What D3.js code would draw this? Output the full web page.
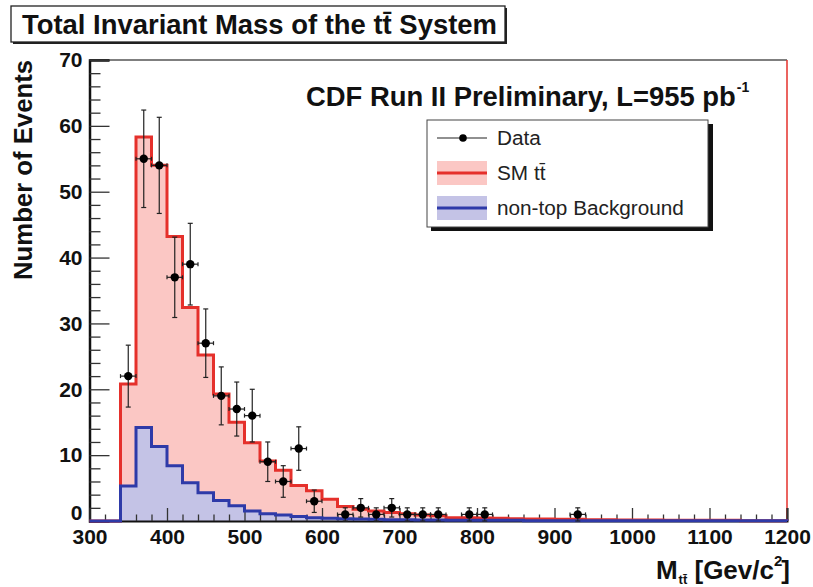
<!DOCTYPE html>
<html><head><meta charset="utf-8">
<script src="https://cdn.jsdelivr.net/npm/d3@7"></script>
<style>
html,body{margin:0;padding:0;background:#fff;}
svg{display:block;}
text{font-family:"Liberation Sans",Arial,Helvetica,sans-serif;}
</style></head>
<body>
<svg id="chart" width="813" height="587"></svg>
<script>
// ---- data ----
const binLow = [300,320,340,360,380,400,420,440,460,480,500,520,540,560,580,600,620,640,660,680,700,720,740,760,780,800,820,840,860,880,900,920,940,960,980,1000,1020,1040,1060,1080,1100,1120,1140,1160,1180];
const binWidth = 20;
const smTotal = [0,0,20.8,58.3,54.0,43.2,32.4,25.2,19.3,15.0,11.9,9.1,7.7,5.4,4.6,3.3,2.2,1.8,1.5,1.3,1.1,0.9,0.8,0.5,0.5,0.45,0.4,0.35,0.3,0.3,0.25,0.25,0.2,0.2,0.15,0.15,0.15,0.1,0.1,0.1,0.1,0.1,0.05,0.05,0.05];
const nonTop  = [0,0,5.3,14.2,11.3,8.4,5.8,4.3,3.1,2.3,1.5,1.1,0.9,0.7,0.5,0.4,0.35,0.3,0.25,0.2,0.2,0.15,0.15,0.1,0.1,0.1,0.1,0.1,0.05,0.05,0.05,0.05,0.05,0.05,0.05,0.05,0.05,0.05,0.05,0.05,0.05,0.05,0.05,0.05,0.05];
const dataCounts = [0,0,22,55,54,37,39,27,19,17,16,9,6,11,3,0,1,2,1,2,1,1,1,0,1,1,0,0,0,0,0,1,0,0,0,0,0,0,0,0,0,0,0,0,0];
const dataErr    = [0,0,4.7,7.4,7.3,6.1,6.2,5.2,4.4,4.1,4.0,3.0,2.4,3.3,1.7,0,1.0,1.4,1.0,1.4,1.0,1.0,1.0,0,1.0,1.0,0,0,0,0,0,1.0,0,0,0,0,0,0,0,0,0,0,0,0,0];
const xTickLabels = [300,400,500,600,700,800,900,1000,1100,1200];
const yTickLabels = [0,10,20,30,40,50,60,70];
const xDomain = [300,1200];
const yDomain = [0,70];

// ---- setup ----
const svg = d3.select("#chart");
const x = d3.scaleLinear().domain(xDomain).range([89.5, 787]);
const y = d3.scaleLinear().domain(yDomain).range([521, 60]);

const RED = "#e5302b", PINK = "#fbc7c4", BLUE = "#2e3aa8", LILAC = "#c4c3e6";
const FONT = '"Liberation Sans",Arial,sans-serif';

function stepPoints(vals){
  const pts = [[binLow[0], 0]];
  vals.forEach((v,i)=>{ pts.push([binLow[i], v]); pts.push([binLow[i]+binWidth, v]); });
  pts.push([binLow[binLow.length-1]+binWidth, 0]);
  return pts;
}
const line = d3.line().x(d=>x(d[0])).y(d=>y(d[1]));
const area = d3.area().x(d=>x(d[0])).y0(y(0)).y1(d=>y(d[1]));

function fit(sel, target){
  const w = sel.node().getComputedTextLength();
  const fs = parseFloat(sel.attr("font-size"));
  sel.attr("font-size", (fs*target/w).toFixed(2));
  return sel;
}

// fills
svg.append("path").attr("d", area(stepPoints(smTotal))).attr("fill", PINK);
svg.append("path").attr("d", area(stepPoints(nonTop))).attr("fill", LILAC);

// frame top & right
svg.append("line").attr("x1", x(300)).attr("x2", x(1200)).attr("y1", y(70)).attr("y2", y(70))
  .attr("stroke", "#555").attr("stroke-width", 1.5);
svg.append("line").attr("x1", x(1200)).attr("x2", x(1200)).attr("y1", y(70)).attr("y2", y(0))
  .attr("stroke", RED).attr("stroke-width", 1.5);

// y axis
const yMinor = d3.range(yDomain[0], yDomain[1], 2).filter(v => v % 10 !== 0);
const gy = svg.append("g").attr("transform", `translate(${x(300)},0)`);
gy.call(d3.axisRight(y).tickValues(yTickLabels).tickSize(20).tickFormat(""));
gy.append("g").call(d3.axisRight(y).tickValues(yMinor).tickSize(11).tickFormat("")).select(".domain").remove();
gy.select(".domain").attr("stroke", "#111").attr("stroke-width", 2.5);
gy.selectAll(".tick line").attr("stroke", "#333").attr("stroke-width", 1.3);
const gyl = svg.append("g").attr("transform", `translate(${x(300)},0)`)
  .call(d3.axisLeft(y).tickValues(yTickLabels).tickSize(0).tickPadding(7).tickFormat(d3.format("d")));
gyl.select(".domain").remove();
gyl.selectAll("text").attr("font-size", 21).attr("font-weight", "bold").attr("fill", "#111")
  .attr("font-family", FONT);
gyl.selectAll(".tick").filter(d => d === 0).select("text").attr("dy", "-0.05em");

// x axis
const xMinor = d3.range(xDomain[0], xDomain[1], 20).filter(v => v % 100 !== 0);
const gx = svg.append("g").attr("transform", `translate(0,${y(0)})`);
gx.call(d3.axisTop(x).tickValues(xTickLabels).tickSize(13).tickFormat(""));
gx.append("g").call(d3.axisTop(x).tickValues(xMinor).tickSize(6.5).tickFormat("")).select(".domain").remove();
gx.select(".domain").attr("stroke", "#111").attr("stroke-width", 2);
gx.selectAll(".tick line").attr("stroke", "#333").attr("stroke-width", 1.3);
const gxl = svg.append("g").attr("transform", `translate(0,${y(0)})`)
  .call(d3.axisBottom(x).tickValues(xTickLabels).tickSize(0).tickPadding(8).tickFormat(d3.format("d")));
gxl.select(".domain").remove();
gxl.selectAll("text").attr("font-size", 21).attr("font-weight", "bold").attr("fill", "#111")
  .attr("font-family", FONT);

// histogram outlines
svg.append("path").attr("d", line(stepPoints(smTotal))).attr("fill", "none")
  .attr("stroke", RED).attr("stroke-width", 3).attr("stroke-linejoin", "miter");
svg.append("path").attr("d", line(stepPoints(nonTop))).attr("fill", "none")
  .attr("stroke", BLUE).attr("stroke-width", 3).attr("stroke-linejoin", "miter");

// data points
const pts = binLow.map((lo,i)=>({lo, c: dataCounts[i], e: dataErr[i]})).filter(d=>d.c>0);
const gd = svg.append("g").attr("stroke", "#222").attr("stroke-width", 1.2);
pts.forEach(d=>{
  const cx = x(d.lo + binWidth/2), cy = y(d.c);
  const yt = y(d.c + d.e), yb = y(Math.max(0, d.c - d.e));
  gd.append("line").attr("x1", cx).attr("x2", cx).attr("y1", yt).attr("y2", yb);
  gd.append("line").attr("x1", cx-2.5).attr("x2", cx+2.5).attr("y1", yt).attr("y2", yt);
  gd.append("line").attr("x1", cx-2.5).attr("x2", cx+2.5).attr("y1", yb).attr("y2", yb);
  const xl = x(d.lo), xr = x(d.lo+binWidth);
  gd.append("line").attr("x1", xl).attr("x2", xr).attr("y1", cy).attr("y2", cy);
  gd.append("line").attr("x1", xl).attr("x2", xl).attr("y1", cy-2).attr("y2", cy+2);
  gd.append("line").attr("x1", xr).attr("x2", xr).attr("y1", cy-2).attr("y2", cy+2);
  svg.append("circle").attr("cx", cx).attr("cy", cy).attr("r", 4.2).attr("fill", "#000");
});

// title box
svg.append("rect").attr("x", 13).attr("y", 8).attr("width", 494).attr("height", 36).attr("fill", "#222");
svg.append("rect").attr("x", 11).attr("y", 6).attr("width", 494).attr("height", 36)
  .attr("fill", "#fff").attr("stroke", "#222").attr("stroke-width", 1.3);
const title = svg.append("text").attr("x", 22).attr("y", 34).attr("font-size", 27).attr("font-weight", "bold")
  .attr("fill", "#111").text("Total Invariant Mass of the tt\u0304 System");
fit(title, 475);

// CDF label
const cdf = svg.append("text").attr("x", 306).attr("y", 106).attr("font-size", 27).attr("font-weight", "bold")
  .attr("fill", "#111").text("CDF Run II Preliminary, L=955 pb");
fit(cdf, 430);
svg.append("text").attr("x", 306 + cdf.node().getComputedTextLength() + 1).attr("y", 92)
  .attr("font-size", 14).attr("font-weight", "bold").attr("fill", "#111").text("-1");

// legend
svg.append("rect").attr("x", 431).attr("y", 124).attr("width", 282).attr("height", 107).attr("fill", "#111");
svg.append("rect").attr("x", 427).attr("y", 120).attr("width", 281).attr("height", 107)
  .attr("fill", "#fff").attr("stroke", "#444").attr("stroke-width", 1);
svg.append("line").attr("x1", 437).attr("x2", 487).attr("y1", 138).attr("y2", 138).attr("stroke", "#222").attr("stroke-width", 1.2);
svg.append("circle").attr("cx", 463).attr("cy", 138).attr("r", 3.8).attr("fill", "#000");
svg.append("rect").attr("x", 437).attr("y", 161).attr("width", 50).attr("height", 24).attr("fill", PINK);
svg.append("line").attr("x1", 437).attr("x2", 487).attr("y1", 173).attr("y2", 173).attr("stroke", RED).attr("stroke-width", 3);
svg.append("rect").attr("x", 437).attr("y", 196).attr("width", 50).attr("height", 24).attr("fill", LILAC);
svg.append("line").attr("x1", 437).attr("x2", 487).attr("y1", 208).attr("y2", 208).attr("stroke", BLUE).attr("stroke-width", 3);
const legLabels = ["Data", "SM tt\u0304", "non-top Background"];
const legY = [145, 180, 215];
const legT = legLabels.map((t,i)=> svg.append("text").attr("x", 497).attr("y", legY[i])
  .attr("font-size", 20).attr("fill", "#222").text(t));
fit(legT[2], 187);
legT.forEach(s=>s.attr("font-size", legT[2].attr("font-size")));

// y title
const yt = svg.append("text").attr("transform", "translate(32,60) rotate(-90)").attr("text-anchor", "end")
  .attr("font-size", 25).attr("font-weight", "bold").attr("fill", "#111").text("Number of Events");
fit(yt, 220);

// x title
const xt = svg.append("text").attr("x", 790).attr("y", 579).attr("text-anchor", "end")
  .attr("font-size", 26).attr("font-weight", "bold").attr("fill", "#111");
xt.append("tspan").text("M");
xt.append("tspan").attr("font-size", 13).attr("dy", 5).attr("dx", 1).text("tt\u0304");
xt.append("tspan").attr("dy", -5).text(" [Gev/c");
xt.append("tspan").attr("font-size", 15).attr("dy", -13).text("2");
xt.append("tspan").attr("dy", 13).attr("dx", -1).text("]");
</script>
</body></html>
